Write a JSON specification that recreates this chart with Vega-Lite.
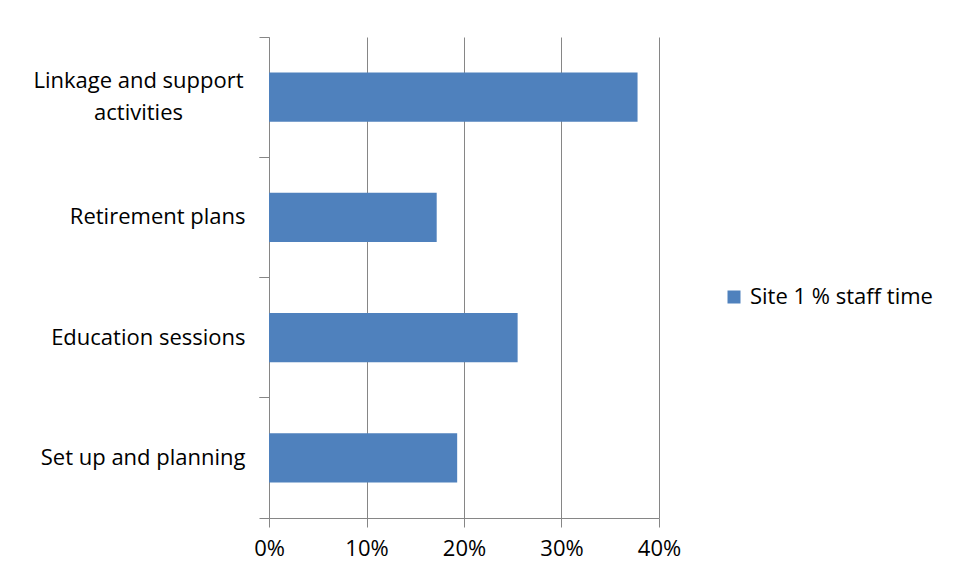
{
  "$schema": "https://vega.github.io/schema/vega-lite/v6.json",
  "width": 390,
  "height": 481,
  "autosize": {"type": "none"},
  "padding": {"left": 269, "top": 37, "right": 299, "bottom": 65},
  "background": "white",
  "config": {"view": {"stroke": null}, "font": "Open Sans"},
  "data": {
    "values": [
      {"activity": "Linkage and support activities", "pct": 0.378},
      {"activity": "Retirement plans", "pct": 0.172},
      {"activity": "Education sessions", "pct": 0.255},
      {"activity": "Set up and planning", "pct": 0.193}
    ]
  },
  "layer": [
    {
      "mark": {"type": "bar", "height": {"band": 0.41}},
      "encoding": {
        "y": {
          "field": "activity", "type": "nominal", "sort": null,
          "scale": {"paddingInner": 0, "paddingOuter": 0},
          "axis": {
            "orient": "left", "title": null, "ticks": false, "domain": true,
            "domainColor": "#868686", "labelFontSize": 22, "labelColor": "black",
            "labelLimit": 400, "labelLineHeight": 32,
            "labelPadding": {"condition": {"test": "datum.value == 'Linkage and support activities'", "value": 131}, "value": 24},
            "labelAlign": {"condition": {"test": "datum.value == 'Linkage and support activities'", "value": "center"}, "value": "right"},
            "labelOffset": {"condition": {"test": "datum.value == 'Linkage and support activities'", "value": -16}, "value": 0},
            "labelExpr": "datum.value == 'Linkage and support activities' ? ['Linkage and support', 'activities'] : datum.value"
          }
        },
        "x": {
          "field": "pct", "type": "quantitative",
          "scale": {"domain": [0, 0.4]},
          "axis": {
            "title": null, "values": [0, 0.1, 0.2, 0.3, 0.4], "format": ".0%",
            "grid": true, "gridColor": "#868686", "domainColor": "#868686",
            "tickColor": "#868686", "tickSize": 9, "labelFontSize": 22,
            "labelColor": "black", "labelPadding": 11, "labelFlush": false
          }
        },
        "color": {
          "datum": "Site 1 % staff time", "type": "nominal",
          "scale": {"range": ["#4F81BD"]},
          "legend": {
            "title": null, "orient": "none", "legendX": 454, "legendY": 249,
            "padding": 0, "symbolType": "square", "symbolSize": 169,
            "symbolStrokeWidth": 0, "labelFontSize": 22, "labelColor": "black",
            "labelOffset": 5, "labelLimit": 400
          }
        }
      }
    },
    {
      "mark": {"type": "tick", "opacity": 0},
      "encoding": {
        "y": {
          "field": "activity", "type": "nominal", "sort": null,
          "axis": {"orient": "left", "title": null, "labels": false, "domain": false,
                   "ticks": true, "tickSize": 10, "tickColor": "#868686", "bandPosition": 0, "grid": false}
        }
      }
    },
    {
      "mark": {"type": "tick", "opacity": 0},
      "encoding": {
        "y": {
          "field": "activity", "type": "nominal", "sort": null,
          "axis": {"orient": "left", "title": null, "labels": false, "domain": false,
                   "ticks": true, "tickSize": 10, "tickColor": "#868686", "bandPosition": 1, "grid": false}
        }
      }
    }
  ],
  "resolve": {"axis": {"y": "independent"}}
}
